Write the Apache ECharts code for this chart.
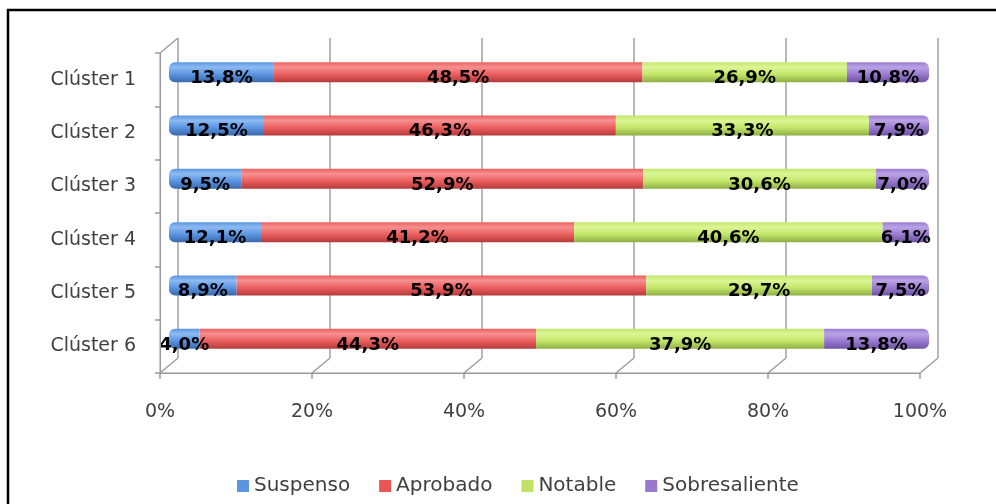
<!DOCTYPE html>
<html>
<head>
<meta charset="utf-8">
<title>Clústeres</title>
<script src="https://cdn.jsdelivr.net/npm/echarts@6/dist/echarts.min.js"></script>
<style>
  html, body { margin: 0; padding: 0; background: #fff; }
  #main { width: 996px; height: 504px; }
</style>
</head>
<body>
<div id="main"></div>
<script>
// datos del gráfico
const clusters = ['Clúster 1', 'Clúster 2', 'Clúster 3', 'Clúster 4', 'Clúster 5', 'Clúster 6']
const suspenso = [13.8, 12.5, 9.5, 12.1, 8.9, 4.0]
const aprobado = [48.5, 46.3, 52.9, 41.2, 53.9, 44.3]
const notable = [26.9, 33.3, 30.6, 40.6, 29.7, 37.9]
const sobresaliente = [10.8, 7.9, 7.0, 6.1, 7.5, 13.8]
const xTicks = [0, 20, 40, 60, 80, 100]

const FONT = 'DejaVu Sans'
const AXIS_GRAY = '#9c9c9c'

// degradado vertical para dar efecto de cilindro
function cyl(light, main, dark) {
  return new echarts.graphic.LinearGradient(0, 0, 0, 1, [
    { offset: 0, color: main },
    { offset: 0.25, color: light },
    { offset: 0.6, color: main },
    { offset: 1, color: dark }
  ])
}

function serie(name, data, color, radius) {
  return {
    name: name,
    type: 'bar',
    stack: 'total',
    xAxisIndex: 0,
    yAxisIndex: 0,
    barWidth: 20,
    data: data,
    itemStyle: { color: color, borderRadius: radius || 0 },
    label: {
      show: true,
      position: 'inside',
      offset: [0, 6],
      color: '#000',
      fontFamily: FONT,
      fontWeight: 'bold',
      fontSize: 18,
      formatter: p => p.value.toFixed(1).replace('.', ',') + '%'
    }
  }
}

const chart = echarts.init(document.getElementById('main'))

const option = {
  animation: false,
  legend: {
    data: [
      { name: 'Suspenso', itemStyle: { color: '#5b95e2' } },
      { name: 'Aprobado', itemStyle: { color: '#e95656' } },
      { name: 'Notable', itemStyle: { color: '#bfe264' } },
      { name: 'Sobresaliente', itemStyle: { color: '#9a78cc' } }
    ],
    left: 232,
    top: 471,
    icon: 'rect',
    itemWidth: 12,
    itemHeight: 12,
    itemGap: 29,
    textStyle: { fontFamily: FONT, fontSize: 20, color: '#404040' }
  },
  grid: [
    // barras (profundidad media)
    { left: 169, top: 45.5, width: 760, height: 320 },
    // ejes frontales
    { left: 160, top: 53, width: 760, height: 320 },
    // plano del fondo
    { left: 178, top: 38, width: 760, height: 320 }
  ],
  xAxis: [
    { gridIndex: 0, type: 'value', min: 0, max: 100, show: false },
    {
      gridIndex: 1, type: 'value', min: 0, max: 100, interval: 20,
      axisLine: { show: false },
      axisTick: { show: true, length: 6, lineStyle: { color: AXIS_GRAY, width: 1.5 } },
      splitLine: { show: false },
      axisLabel: { margin: 30, fontFamily: FONT, fontSize: 19, color: '#404040', formatter: '{value}%' }
    },
    {
      gridIndex: 2, type: 'value', min: 0, max: 100, interval: 20,
      axisLine: { show: false }, axisTick: { show: false }, axisLabel: { show: false },
      splitLine: { show: true, lineStyle: { color: '#a0a0a0', width: 1.5 } }
    }
  ],
  yAxis: [
    { gridIndex: 0, type: 'category', data: clusters, inverse: true, show: false },
    {
      gridIndex: 1, type: 'category', data: clusters, inverse: true,
      axisLine: { show: false },
      axisTick: { show: true, length: 5, lineStyle: { color: AXIS_GRAY, width: 1.5 } },
      axisLabel: { margin: 24, fontFamily: FONT, fontSize: 19, color: '#404040' }
    },
    { gridIndex: 2, type: 'category', data: clusters, inverse: true, show: false }
  ],
  series: [
    serie('Suspenso', suspenso, cyl('#8dbaf2', '#5b95e2', '#3a68aa'), [6, 0, 0, 6]),
    serie('Aprobado', aprobado, cyl('#f79090', '#ec5f5f', '#b53a3a')),
    serie('Notable', notable, cyl('#dcf596', '#c3e76a', '#8fae45')),
    serie('Sobresaliente', sobresaliente, cyl('#bba3e6', '#9b7bd0', '#6d52a3'), [0, 6, 6, 0])
  ],
  graphic: []
}

chart.setOption(option)

// líneas de los ejes frontales y diagonales de perspectiva
const g = []
const poly = pts => ({
  type: 'polyline',
  shape: { points: pts },
  style: { stroke: AXIS_GRAY, lineWidth: 1.5, fill: null },
  silent: true,
  z: 10
})
// trazo recto como rectángulo relleno
const bar = (x, y, w, h) => ({
  type: 'rect',
  shape: { x: x, y: y, width: w, height: h },
  style: { fill: '#999999' },
  silent: true,
  z: 10
})
const top1 = 53, bot1 = 53 + 320, bot2 = 38 + 320
xTicks.forEach(v => {
  const f = chart.convertToPixel({ xAxisIndex: 1 }, v)
  const b = chart.convertToPixel({ xAxisIndex: 2 }, v)
  g.push(poly([[f, bot1], [b, bot2]]))
})
const f0 = chart.convertToPixel({ xAxisIndex: 1 }, 0)
const f100 = chart.convertToPixel({ xAxisIndex: 1 }, 100)
const b0 = chart.convertToPixel({ xAxisIndex: 2 }, 0)
g.push(poly([[b0, 38], [f0, top1]]))
g.push(bar(f0 - 0.5, top1, 1.5, bot1 - top1))
g.push(bar(f0, bot1 - 0.5, f100 - f0, 1.5))

// marco negro del recuadro
g.push({
  type: 'rect',
  shape: { x: 8, y: 10, width: 1100, height: 600 },
  style: { fill: 'none', stroke: '#000', lineWidth: 2.5 },
  silent: true
})

chart.setOption({ graphic: g })
</script>
</body>
</html>
